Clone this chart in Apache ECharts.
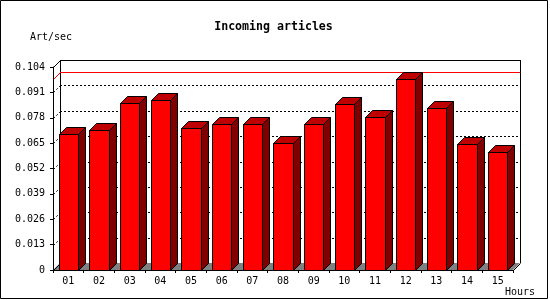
<!DOCTYPE html>
<html>
<head>
<meta charset="utf-8">
<script src="https://cdn.jsdelivr.net/npm/echarts@6/dist/echarts.min.js"></script>
<style>
html,body{margin:0;padding:0;background:#fff;}
#chart{width:550px;height:300px;}
</style>
</head>
<body>
<div id="chart"></div>
<script>
const categories = ['01','02','03','04','05','06','07','08','09','10','11','12','13','14','15'];
const values = [0.0698, 0.0718, 0.0855, 0.0871, 0.0727, 0.0748, 0.0748, 0.0649, 0.0748, 0.0850, 0.0783, 0.0978, 0.0830, 0.0645, 0.0604];
const yTicks = [0, 0.013, 0.026, 0.039, 0.052, 0.065, 0.078, 0.091, 0.104];
const titleText = 'Incoming articles';
const yName = 'Art/sec';
const xName = 'Hours';

const D = 7;
const FONT = '"DejaVu Sans Mono", monospace';
const px = v => Math.round(v) + 0.5;

const chart = echarts.init(document.getElementById('chart'), null, {renderer: 'canvas'});

const maxVal = Math.max.apply(null, values);

const option = {
  animation: false,
  backgroundColor: '#ffffff',
  grid: {left: 53, top: 67, width: 460, height: 203, containLabel: false},
  xAxis: {
    type: 'category',
    data: categories,
    boundaryGap: true,
    z: 10,
    axisLine: {show: true, lineStyle: {color: '#000', width: 1}},
    axisTick: {show: true, interval: 0, length: 3, lineStyle: {color: '#000'}},
    axisLabel: {interval: 0, margin: 6, color: '#000', fontFamily: FONT, fontSize: 10},
    splitLine: {show: false}
  },
  yAxis: {
    type: 'value',
    min: yTicks[0],
    max: yTicks[yTicks.length - 1],
    interval: yTicks[1] - yTicks[0],
    z: 10,
    axisLine: {show: true, lineStyle: {color: '#000', width: 1}},
    axisTick: {show: true, length: 3, lineStyle: {color: '#000'}},
    axisLabel: {
      margin: 8, color: '#000', fontFamily: FONT, fontSize: 10,
      formatter: v => (Math.abs(v) < 1e-9 ? '0' : v.toFixed(3))
    },
    splitLine: {show: false}
  },
  graphic: [
    {type: 'rect', silent: true, z: 100, shape: {x: 0.5, y: 0.5, width: 547, height: 298},
      style: {fill: null, stroke: '#000', lineWidth: 1}},
    {type: 'text', x: 273.5, y: 27, z: 100,
      style: {text: titleText, fontFamily: FONT, fontWeight: 'bold', fontSize: 11.6, fill: '#000',
        align: 'center', verticalAlign: 'middle'}},
    {type: 'text', x: 30, y: 37, z: 100,
      style: {text: yName, fontFamily: FONT, fontSize: 10, fill: '#000', align: 'left', verticalAlign: 'middle'}},
    {type: 'text', x: 505, y: 292, z: 100,
      style: {text: xName, fontFamily: FONT, fontSize: 10, fill: '#000', align: 'left', verticalAlign: 'middle'}}
  ],
  series: [
    {
      // back wall and floor
      type: 'custom',
      z: 1,
      silent: true,
      data: [[0, 0]],
      renderItem: function (params, api) {
        const cs = params.coordSys;
        const x = cs.x, y = cs.y, w = cs.width, h = cs.height;
        const L = (x1, y1, x2, y2) => ({type: 'line', shape: {x1: x1, y1: y1, x2: x2, y2: y2},
          style: {stroke: '#000', lineWidth: 1}});
        return {type: 'group', children: [
          {type: 'rect', shape: {x: x + D, y: y - D, width: w, height: h}, style: {fill: '#fff'}},
          {type: 'polygon', shape: {points: [[x, y + h], [x + w, y + h], [x + w + D, y + h - D], [x + D, y + h - D]]},
            style: {fill: '#808080'}},
          L(x + D, px(y - D), x + w + D, px(y - D)),
          L(px(x + D), y - D, px(x + D), y + h - D),
          L(px(x + w + D), y - D, px(x + w + D), y + h - D),
          L(px(x), px(y), px(x + D), px(y - D)),
          L(px(x), px(y + h), px(x + D), px(y + h - D)),
          L(px(x + w), px(y + h), px(x + w + D), px(y + h - D))
        ]};
      }
    },
    {
      // dotted grid lines on back wall
      type: 'custom',
      z: 2,
      silent: true,
      data: yTicks.filter(v => v > 0).map(v => [0, v]),
      renderItem: function (params, api) {
        const cs = params.coordSys;
        const yy = api.coord([0, api.value(1)])[1];
        const st = {stroke: '#000', lineWidth: 1, lineDash: [2, 2]};
        return {type: 'group', children: [
          {type: 'line', shape: {x1: cs.x + D, y1: px(yy - D), x2: cs.x + cs.width + D, y2: px(yy - D)}, style: st},
          {type: 'line', shape: {x1: px(cs.x), y1: px(yy), x2: px(cs.x + D), y2: px(yy - D)}, style: st}
        ]};
      }
    },
    {
      // max value line
      type: 'custom',
      z: 3,
      silent: true,
      data: [[0, maxVal]],
      renderItem: function (params, api) {
        const cs = params.coordSys;
        const yy = api.coord([0, api.value(1)])[1];
        const st = {stroke: '#ff0000', lineWidth: 1};
        return {type: 'group', children: [
          {type: 'line', shape: {x1: cs.x + D, y1: px(yy - D), x2: cs.x + cs.width + D, y2: px(yy - D)}, style: st},
          {type: 'line', shape: {x1: px(cs.x), y1: px(yy), x2: px(cs.x + D), y2: px(yy - D)}, style: st}
        ]};
      }
    },
    {
      // 3D bars
      type: 'custom',
      z: 4,
      data: values.map((v, i) => [i, v]),
      encode: {x: 0, y: 1},
      renderItem: function (params, api) {
        const idx = api.value(0), v = api.value(1);
        const top = api.coord([idx, v]);
        const bot = api.coord([idx, 0]);
        const bw = api.size([1, 0])[0] * 0.62;
        const x0 = px(top[0] - bw / 2), x1 = px(top[0] + bw / 2);
        const yt = px(top[1]), yb = px(bot[1]);
        const stroke = {stroke: '#000', lineWidth: 1};
        return {type: 'group', children: [
          {type: 'polygon', shape: {points: [[x0, yt], [x0 + D, yt - D], [x1 + D, yt - D], [x1, yt]]},
            style: Object.assign({fill: '#bf0000'}, stroke)},
          {type: 'polygon', shape: {points: [[x1, yt], [x1 + D, yt - D], [x1 + D, yb - D], [x1, yb]]},
            style: Object.assign({fill: '#800000'}, stroke)},
          {type: 'rect', shape: {x: x0, y: yt, width: x1 - x0, height: yb - yt},
            style: Object.assign({fill: '#ff0000'}, stroke)}
        ]};
      }
    }
  ]
};

chart.setOption(option);
</script>
</body>
</html>
